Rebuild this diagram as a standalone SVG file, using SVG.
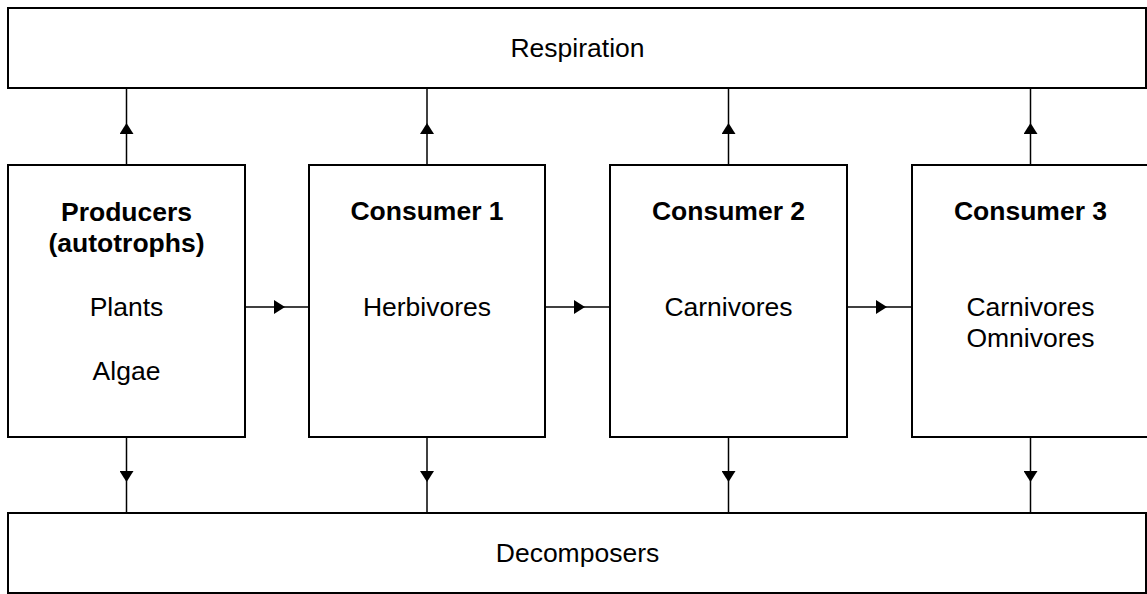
<svg xmlns="http://www.w3.org/2000/svg" width="1147" height="594" viewBox="0 0 1147 594">
  <style>
    .box { fill: #ffffff; stroke: #000000; stroke-width: 2; }
    .conn { fill: none; stroke: #000000; stroke-width: 1.5; marker-mid: url(#arrow); }
    text { font-family: "Liberation Sans", Arial, sans-serif; font-size: 26.5px; fill: #000000; text-anchor: middle; }
    .title { font-weight: bold; }
  </style>
  <defs>
    <marker id="arrow" viewBox="0 0 11 14" refX="11" refY="7" markerWidth="11" markerHeight="14" markerUnits="userSpaceOnUse" orient="auto">
      <path d="M0,0 L11,7 L0,14 z" fill="#000000"/>
    </marker>
  </defs>
  <rect x="0" y="0" width="1147" height="594" fill="#ffffff"/>

  <g id="connectors">
    <!-- up to Respiration -->
    <path class="conn" d="M126.5,165 L126.5,123 L126.5,88"/>
    <path class="conn" d="M427,165 L427,123 L427,88"/>
    <path class="conn" d="M728.5,165 L728.5,123 L728.5,88"/>
    <path class="conn" d="M1030.5,165 L1030.5,123 L1030.5,88"/>
    <!-- down to Decomposers -->
    <path class="conn" d="M126.5,437 L126.5,482 L126.5,513"/>
    <path class="conn" d="M427,437 L427,482 L427,513"/>
    <path class="conn" d="M728.5,437 L728.5,482 L728.5,513"/>
    <path class="conn" d="M1030.5,437 L1030.5,482 L1030.5,513"/>
    <!-- horizontal chain -->
    <path class="conn" d="M245,307 L285,307 L309,307"/>
    <path class="conn" d="M545,307 L585,307 L610,307"/>
    <path class="conn" d="M847,307 L887,307 L912,307"/>
  </g>

  <g id="respiration">
    <rect class="box" x="8" y="8" width="1138" height="80"/>
    <text x="577.5" y="57">Respiration</text>
  </g>

  <g id="decomposers">
    <rect class="box" x="8" y="513" width="1138" height="80"/>
    <text x="577.5" y="562">Decomposers</text>
  </g>

  <g id="producers">
    <rect class="box" x="8" y="165" width="237" height="272"/>
    <text class="title" x="126.5" y="221">Producers</text>
    <text class="title" x="126.5" y="252">(autotrophs)</text>
    <text x="126.5" y="316">Plants</text>
    <text x="126.5" y="380">Algae</text>
  </g>

  <g id="consumer1">
    <rect class="box" x="309" y="165" width="236" height="272"/>
    <text class="title" x="427" y="220">Consumer 1</text>
    <text x="427" y="316">Herbivores</text>
  </g>

  <g id="consumer2">
    <rect class="box" x="610" y="165" width="237" height="272"/>
    <text class="title" x="728.5" y="220">Consumer 2</text>
    <text x="728.5" y="316">Carnivores</text>
  </g>

  <g id="consumer3">
    <rect class="box" x="912" y="165" width="238" height="272"/>
    <text class="title" x="1030.5" y="220">Consumer 3</text>
    <text x="1030.5" y="316">Carnivores</text>
    <text x="1030.5" y="347">Omnivores</text>
  </g>
</svg>
